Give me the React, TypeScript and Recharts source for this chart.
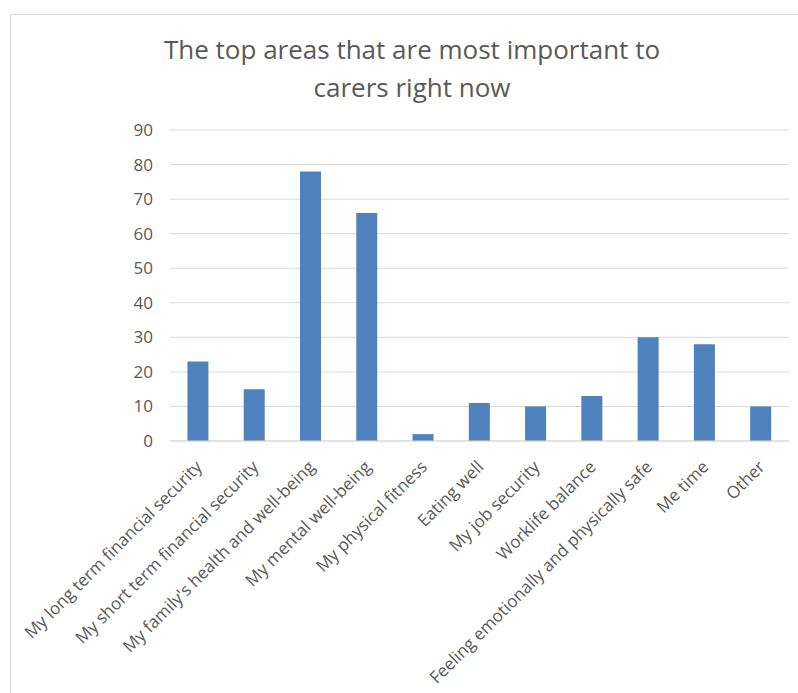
import React from 'react';
import { BarChart, Bar, XAxis, YAxis, CartesianGrid } from 'recharts';

const categories = [
  'My long term financial security',
  'My short term financial security',
  "My family's health and well-being",
  'My mental well-being',
  'My physical fitness',
  'Eating well',
  'My job security',
  'Worklife balance',
  'Feeling emotionally and physically safe',
  'Me time',
  'Other',
];
const values = [23, 15, 78, 66, 2, 11, 10, 13, 30, 28, 10];
const yTicks = [0, 10, 20, 30, 40, 50, 60, 70, 80, 90];

const data = categories.map((name, i) => ({ name, value: values[i] }));

const FONT = '"Open Sans", sans-serif';
const TEXT = '#595959';

// rotated category label, anchored at its end just under the axis
const AngledTick = ({ x, y, payload }: any) => {
  const ax = x + 5;
  const ay = y + 19;
  return (
    <text
      x={ax}
      y={ay}
      transform={`rotate(-45, ${ax}, ${ay})`}
      textAnchor="end"
      fill={TEXT}
      fontSize={17}
      fontFamily={FONT}
    >
      {payload.value}
    </text>
  );
};

const App: React.FC = () => {
  return (
    <div style={{ position: 'absolute', left: 0, top: 0, width: 798, height: 693, overflow: 'hidden', background: '#fff' }}>
      <div
        style={{
          position: 'absolute',
          left: 10,
          top: 14,
          width: 820,
          height: 720,
          border: '1px solid #d9d9d9',
        }}
      />
      <div
        style={{
          position: 'absolute',
          left: 0,
          top: 30,
          width: 824,
          textAlign: 'center',
          fontFamily: FONT,
          fontSize: 26,
          lineHeight: '38px',
          color: TEXT,
        }}
      >
        The top areas that are most important to
        <br />
        carers right now
      </div>
      <div style={{ position: 'absolute', left: 0, top: 0 }}>
        <BarChart
          width={798}
          height={693}
          data={data}
          margin={{ top: 130, right: 9, left: 0, bottom: 0 }}
          barCategoryGap="31%"
        >
          <CartesianGrid vertical={false} stroke="#d9d9d9" strokeWidth={1} />
          <XAxis
            dataKey="name"
            interval={0}
            height={252}
            axisLine={{ stroke: '#d9d9d9' }}
            tickLine={false}
            tick={<AngledTick />}
          />
          <YAxis
            domain={[0, 90]}
            ticks={yTicks}
            width={170}
            axisLine={false}
            tickLine={false}
            tickMargin={11}
            tick={{ fill: TEXT, fontSize: 17, fontFamily: FONT }}
          />
          <Bar dataKey="value" fill="#4f81bd" isAnimationActive={false} />
        </BarChart>
      </div>
    </div>
  );
};

export default App;
